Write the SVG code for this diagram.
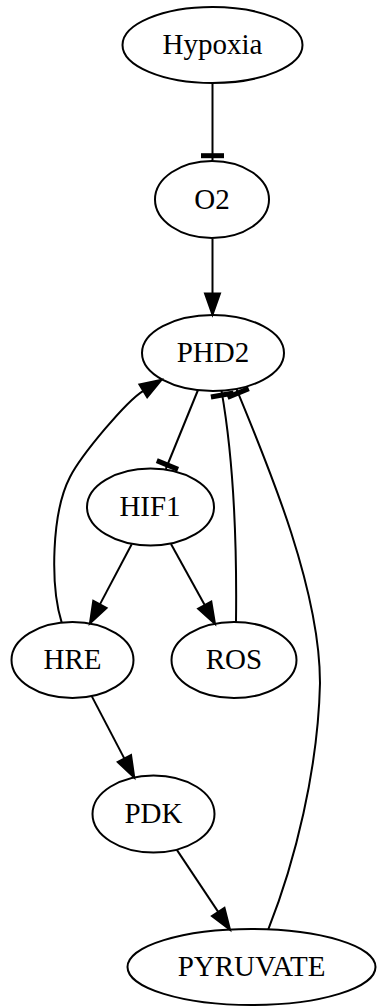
<svg xmlns="http://www.w3.org/2000/svg" width="377" height="1006" viewBox="0 0 377 1006">
  <defs>
    <!-- filled triangular arrowhead; the path ends at the arrow base -->
    <marker id="arrow" markerUnits="userSpaceOnUse" markerWidth="30" markerHeight="30" refX="0" refY="0" orient="auto" overflow="visible">
      <path d="M0,-7.5 L21.3,0 L0,7.5 Z" fill="#000" stroke="#000" stroke-width="2" stroke-linejoin="miter"/>
    </marker>
    <!-- inhibition bar; the path ends at the node boundary -->
    <marker id="tee" markerUnits="userSpaceOnUse" markerWidth="30" markerHeight="30" refX="0" refY="0" orient="auto" overflow="visible">
      <rect x="-6.8" y="-11.5" width="5" height="23" fill="#000"/>
    </marker>
  </defs>
  <style>
    .node ellipse { fill: none; stroke: #000; stroke-width: 2; }
    .node text { font-family: "Liberation Serif", "Times New Roman", serif; font-size: 29px; fill: #000; text-anchor: middle; }
    #edges path { fill: none; stroke: #000; stroke-width: 2; }
    .act { marker-end: url(#arrow); }
    .inh { marker-end: url(#tee); }
  </style>
  <rect width="377" height="1006" fill="#fff"/>

  <g id="edges">
    <!-- Hypoxia -| O2 -->
    <path class="inh" d="M212.5,83 L212.5,160"/>
    <!-- O2 -> PHD2 -->
    <path class="act" d="M212.5,239 L212.5,293.5"/>
    <!-- PHD2 -| HIF1 -->
    <path class="inh" d="M198,390 L165.8,469"/>
    <!-- HIF1 -> HRE -->
    <path class="act" d="M131.7,544.3 L99.9,604.4"/>
    <!-- HIF1 -> ROS -->
    <path class="act" d="M171,543.9 L204.7,605.1"/>
    <!-- HRE -> PHD2 -->
    <path class="act" d="M61.7,622.6 C50,585 51.6,512.5 70,477 C81.5,454.8 126.2,401.2 143.3,390.8"/>
    <!-- ROS -| PHD2 -->
    <path class="inh" d="M236,622 C237,540 234,462 221.5,390.7"/>
    <!-- HRE -> PDK -->
    <path class="act" d="M91.7,696.1 L124.4,758.6"/>
    <!-- PDK -> PYRUVATE -->
    <path class="act" d="M176.7,849.6 L218.2,911.9"/>
    <!-- PYRUVATE -| PHD2 -->
    <path class="inh" d="M268.3,929.3 C295,862 318,770 320,683 C320,590 270,470 236.5,389"/>
  </g>

  <g id="Hypoxia" class="node">
    <ellipse cx="212.5" cy="45" rx="90" ry="38"/>
    <text x="212.5" y="54">Hypoxia</text>
  </g>
  <g id="O2" class="node">
    <ellipse cx="212" cy="199.5" rx="57" ry="38.5"/>
    <text x="212" y="208.5">O2</text>
  </g>
  <g id="PHD2" class="node">
    <ellipse cx="213" cy="353" rx="71" ry="38"/>
    <text x="213" y="362">PHD2</text>
  </g>
  <g id="HIF1" class="node">
    <ellipse cx="150.5" cy="507" rx="63.5" ry="38.5"/>
    <text x="150" y="516">HIF1</text>
  </g>
  <g id="HRE" class="node">
    <ellipse cx="72.5" cy="660" rx="61" ry="38"/>
    <text x="72.5" y="669">HRE</text>
  </g>
  <g id="ROS" class="node">
    <ellipse cx="234" cy="660" rx="62.5" ry="38"/>
    <text x="234" y="669">ROS</text>
  </g>
  <g id="PDK" class="node">
    <ellipse cx="153.5" cy="814" rx="61" ry="38.5"/>
    <text x="153.5" y="823">PDK</text>
  </g>
  <g id="PYRUVATE" class="node">
    <ellipse cx="251.5" cy="967" rx="124" ry="38"/>
    <text x="251.5" y="976">PYRUVATE</text>
  </g>
</svg>
